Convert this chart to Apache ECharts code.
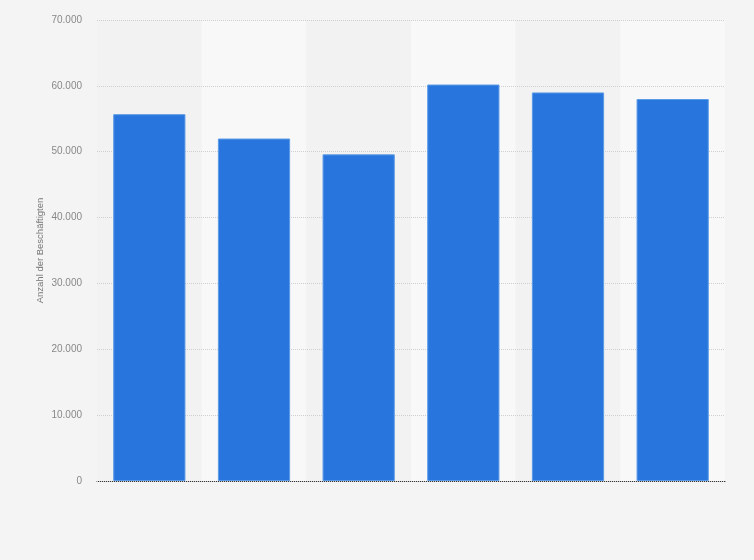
<!DOCTYPE html>
<html>
<head>
<meta charset="utf-8">
<script src="https://cdn.jsdelivr.net/npm/echarts@6/dist/echarts.min.js"></script>
<style>
  html, body { margin: 0; padding: 0; background: #f4f4f4; }
  #chart { width: 754px; height: 560px; }
</style>
</head>
<body>
<div id="chart"></div>
<script>
// x-axis labels are not shown in the reference
var categories = ['1', '2', '3', '4', '5', '6'];
var employees = [55700, 52000, 49600, 60200, 59000, 58000];

var chartDom = document.getElementById('chart');
var myChart = echarts.init(chartDom);
var option = {
  backgroundColor: '#f4f4f4',
  grid: { left: 97, right: 29, top: 20, bottom: 79 },
  xAxis: {
    type: 'category',
    data: categories,
    z: 0,
    axisLine: { lineStyle: { color: '#333', width: 1 } },
    axisTick: { show: false },
    axisLabel: { show: false },
    splitArea: { show: true, areaStyle: { color: ['#f2f2f2', '#f8f8f8'] } }
  },
  yAxis: {
    type: 'value',
    min: 0,
    max: 70000,
    interval: 10000,
    z: 1,
    name: 'Anzahl der Beschäftigten',
    nameLocation: 'middle',
    nameGap: 52,
    nameMoveOverlap: false,
    nameTextStyle: { color: '#777', fontSize: 9.5, fontFamily: 'Liberation Sans' },
    axisLine: { show: false },
    axisTick: { show: false },
    axisLabel: {
      color: '#888',
      fontSize: 10,
      fontFamily: 'Liberation Sans',
      margin: 15,
      formatter: function (v) {
        return v.toString().replace(/\B(?=(\d{3})+(?!\d))/g, '.');
      }
    },
    splitLine: { lineStyle: { color: '#cfcfcf', width: 1, type: [1, 1] } }
  },
  series: [
    {
      type: 'bar',
      data: employees,
      z: 2,
      barCategoryGap: '31%',
      itemStyle: { color: '#2876dd', borderColor: '#5b9ae6', borderWidth: 1 }
    }
  ]
};

option && myChart.setOption(option);
</script>
</body>
</html>
